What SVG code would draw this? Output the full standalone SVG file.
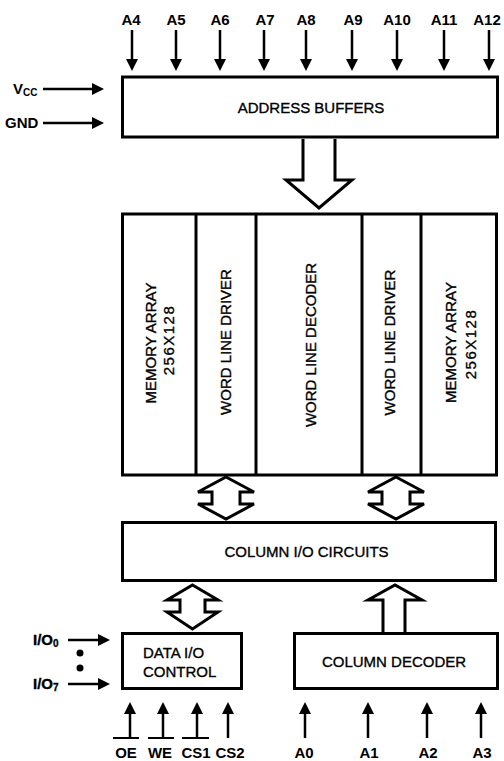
<svg xmlns="http://www.w3.org/2000/svg" width="504" height="761" viewBox="0 0 504 761">
<style>
.box{fill:#fff;stroke:#000;stroke-width:3}
.div{stroke:#000;stroke-width:3}
.t{font-family:"Liberation Sans",Arial,sans-serif;font-size:15px;fill:#000;stroke:#000;stroke-width:0.35}
.p{font-family:"Liberation Sans",Arial,sans-serif;font-size:15px;font-weight:bold;fill:#000}
.w{stroke:#000;stroke-width:2.5;fill:none;marker-end:url(#ah)}
.h{fill:#fff;stroke:#000;stroke-width:3;stroke-linejoin:miter}
.ob{stroke:#000;stroke-width:2}
</style>
<defs>
<marker id="ah" viewBox="0 0 12 12" refX="2" refY="6" markerWidth="12" markerHeight="12" markerUnits="userSpaceOnUse" orient="auto"><path d="M0,0 L12,6 L0,12 z" fill="#000"/></marker>
</defs>

<g id="connectors">
  <line class="w" x1="132" y1="30" x2="132" y2="61"/>
  <line class="w" x1="176" y1="30" x2="176" y2="61"/>
  <line class="w" x1="220" y1="30" x2="220" y2="61"/>
  <line class="w" x1="264" y1="30" x2="264" y2="61"/>
  <line class="w" x1="306" y1="30" x2="306" y2="61"/>
  <line class="w" x1="352" y1="30" x2="352" y2="61"/>
  <line class="w" x1="397" y1="30" x2="397" y2="61"/>
  <line class="w" x1="444" y1="30" x2="444" y2="61"/>
  <line class="w" x1="489" y1="30" x2="489" y2="61"/>
  <line class="w" x1="43" y1="89" x2="94" y2="89"/>
  <line class="w" x1="43" y1="123" x2="94" y2="123"/>
  <line class="w" x1="68" y1="640" x2="100" y2="640"/>
  <line class="w" x1="68" y1="684" x2="100" y2="684"/>
  <line class="w" x1="130" y1="738" x2="130" y2="712"/>
  <line class="w" x1="163" y1="738" x2="163" y2="712"/>
  <line class="w" x1="197" y1="738" x2="197" y2="712"/>
  <line class="w" x1="228" y1="738" x2="228" y2="712"/>
  <line class="w" x1="305" y1="738" x2="305" y2="712"/>
  <line class="w" x1="368" y1="738" x2="368" y2="712"/>
  <line class="w" x1="427" y1="738" x2="427" y2="712"/>
  <line class="w" x1="481" y1="738" x2="481" y2="712"/>
  <path class="h" d="M303,139 V180 H286 L319,208 L352,180 H335 V139"/>
  <path class="h" d="M226,477 L254,492 H240 V504 H254 L226,519 L198,504 H212 V492 H198 Z"/>
  <path class="h" d="M396,477 L424,492 H410 V504 H424 L396,519 L368,504 H382 V492 H368 Z"/>
  <path class="h" d="M192.5,585 L218,600 H205 V612 H218 L192.5,629 L167,612 H180 V600 H167 Z"/>
  <path class="h" d="M383,632 V600 H368 L395,585 L422,600 H405 V632"/>
  <circle cx="80" cy="653" r="3.5" fill="#000"/>
  <circle cx="80" cy="668" r="3.5" fill="#000"/>
</g>

<g id="pin-labels">
  <text class="p" x="131" y="25" text-anchor="middle">A4</text>
  <text class="p" x="176" y="25" text-anchor="middle">A5</text>
  <text class="p" x="220" y="25" text-anchor="middle">A6</text>
  <text class="p" x="265" y="25" text-anchor="middle">A7</text>
  <text class="p" x="306" y="25" text-anchor="middle">A8</text>
  <text class="p" x="353" y="25" text-anchor="middle">A9</text>
  <text class="p" x="397" y="25" text-anchor="middle">A10</text>
  <text class="p" x="444" y="25" text-anchor="middle">A11</text>
  <text class="p" x="487" y="25" text-anchor="middle">A12</text>
  <text class="p" x="13" y="94">V<tspan font-size="10" dy="2">CC</tspan></text>
  <text class="p" x="5" y="128">GND</text>
  <text class="p" x="33" y="645" font-weight="normal" stroke="#000" stroke-width="0.35">I/O<tspan font-size="10" dy="2">0</tspan></text>
  <text class="p" x="33" y="689" font-weight="normal" stroke="#000" stroke-width="0.35">I/O<tspan font-size="10" dy="2">7</tspan></text>
  <text class="p" x="126" y="758" text-anchor="middle">OE</text>
  <text class="p" x="160" y="758" text-anchor="middle">WE</text>
  <text class="p" x="196" y="758" text-anchor="middle">CS1</text>
  <text class="p" x="230" y="758" text-anchor="middle">CS2</text>
  <line class="ob" x1="113" y1="738" x2="139" y2="738"/>
  <line class="ob" x1="148" y1="738" x2="174" y2="738"/>
  <line class="ob" x1="182" y1="738" x2="209" y2="738"/>
  <text class="p" x="304" y="758" text-anchor="middle">A0</text>
  <text class="p" x="369" y="758" text-anchor="middle">A1</text>
  <text class="p" x="428" y="758" text-anchor="middle">A2</text>
  <text class="p" x="482" y="758" text-anchor="middle">A3</text>
</g>

<g id="address-buffers">
  <rect class="box" x="122.5" y="77" width="375" height="60"/>
  <text class="t" x="311" y="112.5" text-anchor="middle">ADDRESS BUFFERS</text>
</g>

<g id="memory-block">
  <rect class="box" x="122.5" y="214" width="374" height="261"/>
  <line class="div" x1="196" y1="214" x2="196" y2="475"/>
  <line class="div" x1="256" y1="214" x2="256" y2="475"/>
  <line class="div" x1="362" y1="214" x2="362" y2="475"/>
  <line class="div" x1="421" y1="214" x2="421" y2="475"/>
</g>
<g id="memory-array-left">
  <text class="t" transform="translate(156,343) rotate(-90)" text-anchor="middle">MEMORY ARRAY</text>
  <text class="t" transform="translate(174,340) rotate(-90)" text-anchor="middle" letter-spacing="1.5">256X128</text>
</g>
<g id="word-line-driver-left">
  <text class="t" transform="translate(231,342) rotate(-90)" text-anchor="middle">WORD LINE DRIVER</text>
</g>
<g id="word-line-decoder">
  <text class="t" transform="translate(316,345) rotate(-90)" text-anchor="middle">WORD LINE DECODER</text>
</g>
<g id="word-line-driver-right">
  <text class="t" transform="translate(395,342.5) rotate(-90)" text-anchor="middle">WORD LINE DRIVER</text>
</g>
<g id="memory-array-right">
  <text class="t" transform="translate(456,342.5) rotate(-90)" text-anchor="middle">MEMORY ARRAY</text>
  <text class="t" transform="translate(476,344) rotate(-90)" text-anchor="middle" letter-spacing="1.5">256X128</text>
</g>

<g id="column-io-circuits">
  <rect class="box" x="122.5" y="522.5" width="373" height="58"/>
  <text class="t" x="306.5" y="557" text-anchor="middle">COLUMN I/O CIRCUITS</text>
</g>

<g id="data-io-control">
  <rect class="box" x="122.5" y="633.5" width="119" height="55"/>
  <text class="t" x="143" y="658">DATA I/O</text>
  <text class="t" x="143" y="677">CONTROL</text>
</g>

<g id="column-decoder">
  <rect class="box" x="294.5" y="633.5" width="203" height="55"/>
  <text class="t" x="394" y="666.5" text-anchor="middle">COLUMN DECODER</text>
</g>
</svg>
